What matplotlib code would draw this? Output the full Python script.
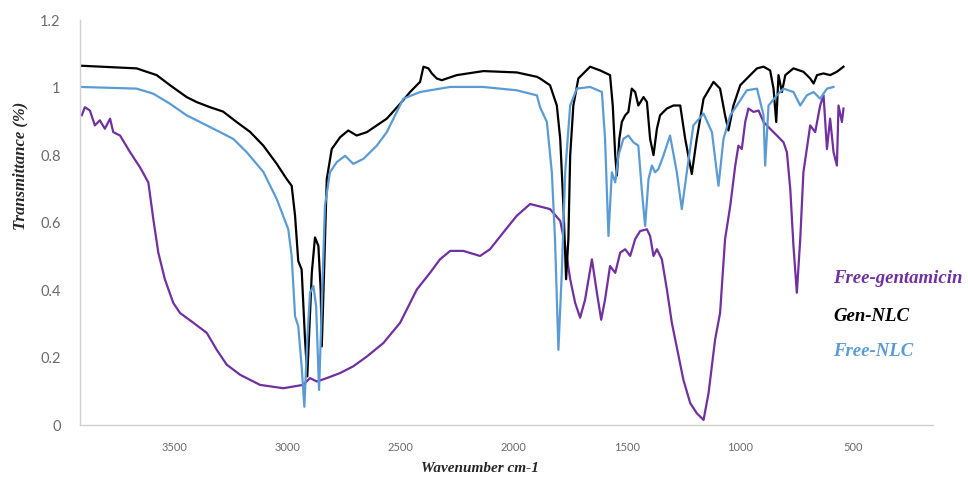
import matplotlib
matplotlib.use("Agg")
import matplotlib.pyplot as plt

# ---- data ----
gen_nlc_wn = [3916, 3666, 3577, 3518, 3445, 3400, 3342, 3284, 3224, 3165, 3106, 3047, 3003, 2981,
              2966, 2952, 2937, 2922, 2912, 2892, 2878, 2863, 2853, 2848, 2838, 2826, 2804, 2767,
              2731, 2694, 2649, 2605, 2561, 2502, 2458, 2414, 2399, 2377, 2362, 2340, 2318, 2252,
              2134, 1987, 1898, 1884, 1840, 1810, 1795, 1781, 1769, 1759, 1751, 1737, 1715, 1663,
              1619, 1575, 1563, 1552, 1545, 1534, 1523, 1508, 1494, 1479, 1464, 1450, 1427, 1412,
              1398, 1383, 1368, 1354, 1324, 1295, 1265, 1243, 1214, 1192, 1162, 1118, 1089, 1067,
              1052, 1030, 1000, 956, 926, 897, 868, 853, 841, 831, 816, 801, 765, 721, 691, 676,
              661, 632, 603, 573, 544]
gen_nlc_t = [1.065, 1.057, 1.037, 1.007, 0.972, 0.957, 0.942, 0.929, 0.898, 0.869, 0.828, 0.774,
             0.729, 0.709, 0.620, 0.486, 0.461, 0.253, 0.144, 0.452, 0.556, 0.531, 0.402, 0.233,
             0.452, 0.729, 0.818, 0.853, 0.873, 0.858, 0.868, 0.888, 0.908, 0.952, 0.987, 1.017,
             1.062, 1.057, 1.042, 1.027, 1.022, 1.037, 1.049, 1.045, 1.032, 1.027, 1.007, 0.947,
             0.848, 0.650, 0.432, 0.551, 0.799, 0.947, 1.027, 1.062, 1.051, 1.037, 0.947, 0.799,
             0.739, 0.848, 0.898, 0.918, 0.928, 0.997, 0.987, 0.947, 0.972, 0.957, 0.848, 0.800,
             0.878, 0.918, 0.938, 0.947, 0.947, 0.848, 0.744, 0.848, 0.967, 1.017, 0.997, 0.918,
             0.873, 0.947, 1.007, 1.037, 1.057, 1.062, 1.051, 0.997, 0.898, 1.037, 0.987, 1.037,
             1.057, 1.047, 1.027, 1.012, 1.037, 1.042, 1.037, 1.047, 1.062]

free_nlc_wn = [3916, 3666, 3592, 3518, 3445, 3371, 3297, 3239, 3180, 3106, 3047, 2996, 2981, 2966,
               2952, 2937, 2925, 2912, 2900, 2885, 2873, 2860, 2848, 2834, 2812, 2782, 2745, 2709,
               2664, 2605, 2561, 2488, 2414, 2281, 2136, 1987, 1898, 1884, 1854, 1832, 1818, 1803,
               1788, 1773, 1751, 1722, 1663, 1611, 1597, 1582, 1567, 1552, 1538, 1516, 1494, 1472,
               1450, 1435, 1420, 1405, 1390, 1376, 1361, 1339, 1310, 1280, 1258, 1236, 1207, 1162,
               1125, 1096, 1074, 1044, 1015, 971, 926, 897, 890, 875, 838, 809, 765, 735, 706, 676,
               647, 617, 588]
free_nlc_t = [1.002, 0.997, 0.982, 0.952, 0.918, 0.893, 0.868, 0.848, 0.809, 0.750, 0.670, 0.580,
              0.501, 0.322, 0.293, 0.174, 0.054, 0.253, 0.392, 0.412, 0.352, 0.104, 0.352, 0.650,
              0.749, 0.779, 0.798, 0.774, 0.789, 0.828, 0.868, 0.967, 0.987, 1.002, 1.002, 0.992,
              0.977, 0.942, 0.898, 0.749, 0.551, 0.223, 0.452, 0.749, 0.947, 0.997, 1.002, 0.987,
              0.848, 0.560, 0.749, 0.719, 0.799, 0.848, 0.858, 0.838, 0.828, 0.699, 0.590, 0.729,
              0.769, 0.749, 0.759, 0.799, 0.858, 0.749, 0.640, 0.749, 0.888, 0.923, 0.868, 0.709,
              0.848, 0.918, 0.947, 0.992, 0.997, 0.918, 0.769, 0.947, 0.977, 0.997, 0.987, 0.947,
              0.977, 0.987, 0.967, 0.997, 1.002]

free_gen_wn = [3908, 3894, 3872, 3850, 3828, 3806, 3783, 3769, 3739, 3695, 3651, 3614, 3592, 3570,
               3541, 3504, 3474, 3415, 3356, 3312, 3268, 3209, 3165, 3121, 3018, 2930, 2900, 2870,
               2826, 2767, 2709, 2649, 2576, 2502, 2428, 2370, 2326, 2281, 2223, 2149, 2105, 2046,
               1987, 1928, 1869, 1840, 1795, 1773, 1751, 1729, 1707, 1685, 1655, 1633, 1614, 1597,
               1575, 1552, 1530, 1508, 1486, 1464, 1442, 1412, 1398, 1383, 1368, 1346, 1324, 1302,
               1280, 1251, 1221, 1192, 1162, 1140, 1111, 1089, 1067, 1044, 1022, 1008, 993, 978,
               964, 941, 919, 897, 868, 838, 809, 794, 779, 765, 750, 735, 721, 706, 691, 669, 647,
               632, 617, 603, 588, 573, 566, 551, 544]
free_gen_t = [0.918, 0.942, 0.932, 0.888, 0.903, 0.878, 0.908, 0.868, 0.858, 0.809, 0.764, 0.719,
              0.610, 0.511, 0.432, 0.362, 0.332, 0.303, 0.273, 0.223, 0.179, 0.149, 0.134, 0.119,
              0.109, 0.119, 0.139, 0.129, 0.139, 0.154, 0.174, 0.203, 0.243, 0.303, 0.402, 0.451,
              0.491, 0.516, 0.516, 0.501, 0.521, 0.571, 0.620, 0.655, 0.645, 0.640, 0.605, 0.531,
              0.432, 0.362, 0.318, 0.372, 0.491, 0.392, 0.312, 0.372, 0.471, 0.451, 0.511, 0.521,
              0.501, 0.551, 0.575, 0.580, 0.560, 0.501, 0.521, 0.491, 0.402, 0.303, 0.230, 0.134,
              0.065, 0.035, 0.015, 0.094, 0.253, 0.332, 0.551, 0.650, 0.769, 0.828, 0.818, 0.898,
              0.938, 0.928, 0.932, 0.898, 0.878, 0.858, 0.838, 0.809, 0.699, 0.531, 0.392, 0.551,
              0.749, 0.818, 0.888, 0.868, 0.947, 0.977, 0.818, 0.908, 0.809, 0.769, 0.947, 0.898,
              0.938]

series_names = ["Free-gentamicin", "Gen-NLC", "Free-NLC"]
series_colors = ["#7030A0", "#000000", "#5B9BD5"]
x_ticks = [3500, 3000, 2500, 2000, 1500, 1000, 500]
y_ticks = [0, 0.2, 0.4, 0.6, 0.8, 1, 1.2]
y_tick_labels = ["0", "0.2", "0.4", "0.6", "0.8", "1", "1.2"]

# ---- figure ----
fig = plt.figure(figsize=(9.68, 4.91), dpi=100)
ax = fig.add_axes([0.0826, 0.1344, 0.8814, 0.8246])

ax.plot(free_gen_wn, free_gen_t, color=series_colors[0], lw=1.6)
ax.plot(gen_nlc_wn, gen_nlc_t, color=series_colors[1], lw=1.6)
ax.plot(free_nlc_wn, free_nlc_t, color=series_colors[2], lw=1.6)

ax.set_xlim(3916, 148)
ax.set_ylim(0, 1.2)
ax.set_xticks(x_ticks)
ax.set_xticklabels([str(t) for t in x_ticks], fontsize=8, color="#6a6a6a", family="Lato")
ax.set_yticks(y_ticks)
ax.set_yticklabels(y_tick_labels, fontsize=10.5, color="#6a6a6a", family="Lato")
ax.tick_params(axis="both", length=0)
ax.tick_params(axis="x", pad=12)
ax.tick_params(axis="y", pad=14)
for s in ["top", "right"]:
    ax.spines[s].set_visible(False)
for s in ["left", "bottom"]:
    ax.spines[s].set_color("#d0d0d0")
    ax.spines[s].set_linewidth(1.0)

serif = ["Liberation Serif", "DejaVu Serif"]
fig.text(0.0207, 0.662, "Transmittance (%)", rotation=90, ha="center", va="center",
         fontsize=12, fontweight="bold", fontstyle="italic", family=serif, color="#262626")
fig.text(0.496, 0.045, "Wavenumber cm-1", ha="center", va="center",
         fontsize=11, fontweight="bold", fontstyle="italic", family=serif, color="#262626")

legend_y = [0.4318, 0.3544, 0.2831]
for name, col, yy in zip(series_names, series_colors, legend_y):
    fig.text(0.8605, yy, name, ha="left", va="center", fontsize=13.5,
             fontweight="bold", fontstyle="italic", family=serif, color=col)

fig.savefig("out.png", dpi=100)
